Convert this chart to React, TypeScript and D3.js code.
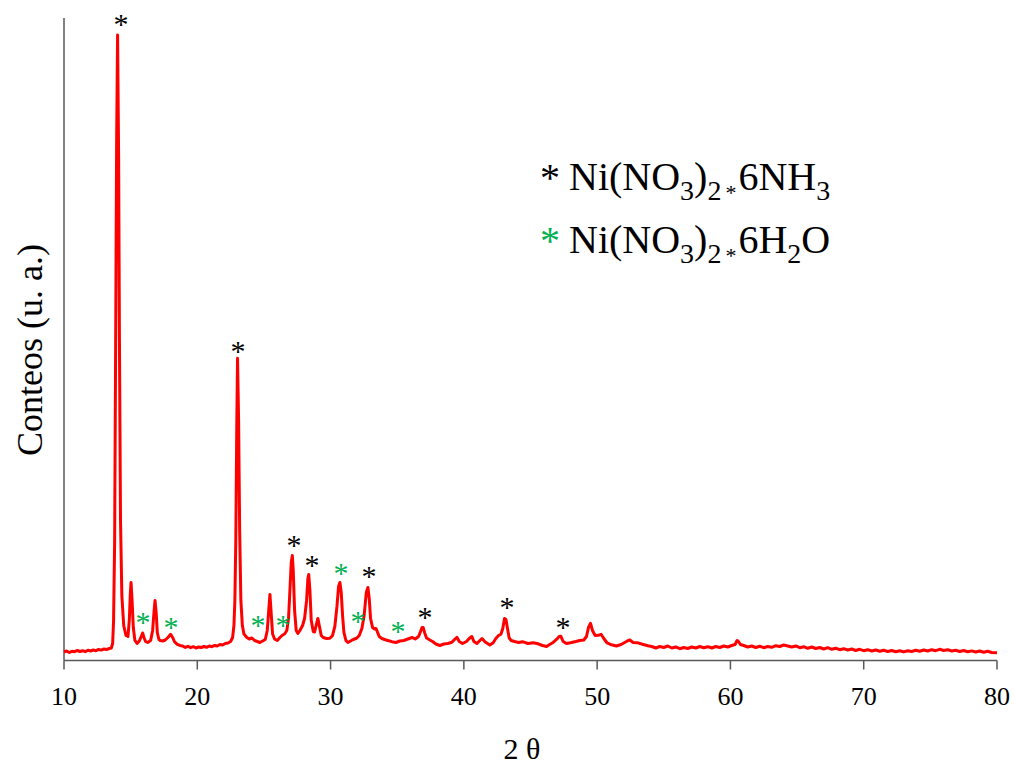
import React from "react";
import * as d3 from "d3";

// XRD pattern: [2θ (deg), counts (a.u.)]
const pattern: [number, number][] = [
  [10.0, 85], [10.2, 95], [10.4, 80], [10.6, 92], [10.8, 88], [11.0, 100], [11.2, 90], [11.4, 98],
  [11.6, 88], [11.8, 102], [12.0, 95], [12.2, 105], [12.4, 98], [12.6, 110], [12.8, 104], [13.0, 115],
  [13.2, 110], [13.4, 120], [13.55, 125], [13.65, 170], [13.72, 400], [13.8, 1200], [13.88, 3300],
  [13.95, 5200], [14.02, 6250], [14.1, 5000], [14.16, 3200], [14.24, 1400], [14.34, 650], [14.48, 350],
  [14.65, 250], [14.8, 240], [14.9, 400], [14.97, 650], [15.03, 780], [15.1, 620], [15.2, 330],
  [15.32, 200], [15.48, 170], [15.65, 195], [15.8, 240], [15.9, 275], [16.0, 230], [16.12, 190],
  [16.28, 180], [16.5, 200], [16.65, 300], [16.75, 480], [16.83, 600], [16.92, 470], [17.0, 280],
  [17.12, 210], [17.22, 200], [17.4, 195], [17.6, 205], [17.8, 230], [18.0, 262], [18.15, 230],
  [18.3, 185], [18.5, 162], [18.7, 150], [18.9, 145], [19.1, 130], [19.3, 142], [19.5, 128],
  [19.7, 138], [19.9, 125], [20.1, 135], [20.3, 130], [20.5, 140], [20.7, 132], [20.9, 145],
  [21.1, 138], [21.3, 150], [21.5, 145], [21.7, 160], [21.9, 155], [22.1, 170], [22.3, 175],
  [22.5, 190], [22.65, 230], [22.75, 350], [22.82, 600], [22.89, 1200], [22.96, 2300], [23.02, 3020],
  [23.1, 2400], [23.18, 1300], [23.27, 600], [23.38, 350], [23.5, 265], [23.72, 230], [23.9, 215],
  [24.1, 225], [24.3, 200], [24.5, 190], [24.7, 180], [24.9, 195], [25.1, 210], [25.25, 300],
  [25.35, 480], [25.45, 660], [25.55, 460], [25.65, 265], [25.8, 215], [26.0, 200], [26.2, 230],
  [26.4, 255], [26.55, 265], [26.72, 300], [26.85, 430], [26.95, 700], [27.05, 980], [27.13, 1050],
  [27.2, 900], [27.3, 500], [27.42, 300], [27.55, 270], [27.7, 300], [27.9, 350], [28.05, 420],
  [28.2, 600], [28.3, 820], [28.36, 860], [28.45, 700], [28.55, 400], [28.7, 290], [28.8, 285],
  [28.92, 350], [29.05, 420], [29.15, 350], [29.3, 250], [29.45, 230], [29.7, 220], [29.95, 222],
  [30.15, 250], [30.32, 340], [30.48, 540], [30.6, 740], [30.7, 780], [30.8, 680], [30.9, 450],
  [31.0, 280], [31.15, 200], [31.3, 180], [31.5, 195], [31.7, 210], [31.95, 222], [32.15, 250],
  [32.35, 320], [32.52, 450], [32.68, 680], [32.8, 730], [32.9, 620], [33.0, 420], [33.15, 330],
  [33.3, 315], [33.4, 320], [33.5, 290], [33.65, 240], [33.85, 220], [34.05, 210], [34.3, 200],
  [34.6, 188], [34.9, 180], [35.2, 195], [35.5, 200], [35.8, 215], [36.1, 230], [36.35, 215],
  [36.6, 240], [36.75, 290], [36.86, 330], [36.95, 330], [37.05, 280], [37.2, 225], [37.45, 205],
  [37.65, 190], [37.9, 165], [38.2, 150], [38.5, 165], [38.8, 170], [39.1, 182], [39.3, 210],
  [39.48, 232], [39.65, 190], [39.9, 170], [40.2, 190], [40.4, 220], [40.6, 240], [40.75, 190],
  [40.98, 170], [41.2, 200], [41.36, 220], [41.6, 185], [41.95, 155], [42.2, 178], [42.4, 220],
  [42.6, 250], [42.78, 262], [42.92, 320], [43.05, 420], [43.16, 410], [43.26, 330], [43.4, 225],
  [43.55, 200], [43.8, 190], [44.1, 180], [44.4, 188], [44.8, 170], [45.2, 178], [45.5, 170],
  [45.9, 150], [46.2, 140], [46.5, 165], [46.7, 180], [46.95, 210], [47.15, 240], [47.28, 242],
  [47.45, 190], [47.7, 170], [48.0, 178], [48.4, 190], [48.7, 200], [49.0, 205], [49.2, 240],
  [49.35, 330], [49.5, 372], [49.65, 300], [49.85, 250], [50.1, 252], [50.3, 262], [50.5, 220],
  [50.75, 175], [51.0, 160], [51.45, 145], [51.8, 160], [52.2, 190], [52.45, 205], [52.7, 180],
  [53.0, 178], [53.4, 162], [53.8, 148], [54.1, 140], [54.4, 125], [54.7, 140], [55.0, 130],
  [55.3, 145], [55.6, 125], [55.9, 135], [56.2, 118], [56.5, 130], [56.8, 120], [57.1, 135],
  [57.4, 125], [57.7, 140], [58.0, 128], [58.3, 138], [58.6, 125], [58.9, 140], [59.2, 130],
  [59.5, 145], [59.8, 135], [60.1, 150], [60.35, 160], [60.5, 200], [60.6, 190], [60.75, 160],
  [61.0, 150], [61.3, 135], [61.6, 145], [61.9, 130], [62.2, 142], [62.5, 128], [62.8, 140],
  [63.1, 132], [63.4, 148], [63.7, 140], [64.0, 155], [64.3, 145], [64.6, 135], [64.9, 145],
  [65.2, 128], [65.5, 138], [65.8, 122], [66.1, 135], [66.4, 120], [66.7, 130], [67.0, 115],
  [67.3, 128], [67.6, 112], [67.9, 122], [68.2, 108], [68.5, 118], [68.8, 105], [69.1, 115],
  [69.4, 100], [69.7, 112], [70.0, 98], [70.3, 108], [70.6, 95], [70.9, 105], [71.2, 92],
  [71.5, 102], [71.8, 90], [72.1, 100], [72.4, 88], [72.7, 98], [73.0, 86], [73.3, 98],
  [73.6, 90], [73.9, 102], [74.2, 92], [74.5, 105], [74.8, 95], [75.1, 108], [75.4, 98],
  [75.7, 112], [76.0, 100], [76.3, 108], [76.6, 95], [76.9, 102], [77.2, 90], [77.5, 100],
  [77.8, 88], [78.1, 96], [78.4, 85], [78.7, 95], [79.0, 82], [79.3, 92], [79.6, 80], [80.0, 78],
];

// Phase markers: [2θ, counts] at the asterisk centre
const nh3Markers: [number, number][] = [
  [14.28, 6400], [23.05, 3130], [27.25, 1190], [28.6, 990], [32.88, 880], [37.08, 470], [43.23, 570], [47.43, 370],
];
const h2oMarkers: [number, number][] = [
  [15.93, 420], [18.03, 370], [24.55, 390], [26.43, 390], [30.78, 910], [32.06, 430], [35.06, 330],
];

const xTicks = [10, 20, 30, 40, 50, 60, 70, 80];
const xDomain: [number, number] = [10, 80];
const yDomain: [number, number] = [0, 6420];

const FONT = "'Liberation Serif', 'Times New Roman', serif";
const GREEN = "#00B050";
const AXIS = "#595959";

export default function App() {
  const left = 64, right = 997, top = 18, bottom = 660.5;
  const x = d3.scaleLinear().domain(xDomain).range([left, right]);
  const y = d3.scaleLinear().domain(yDomain).range([bottom, top]);
  const line = d3
    .line<[number, number]>()
    .x((d) => x(d[0]))
    .y((d) => y(d[1]))
    .curve(d3.curveLinear);

  const star = (d: [number, number], color: string, i: number) => (
    <text
      key={color + i}
      x={x(d[0])}
      y={y(d[1]) + 14}
      textAnchor="middle"
      fontSize={30}
      fill={color}
      fontFamily={FONT}
    >
      *
    </text>
  );

  const legendLine = (yb: number, color: string, tail: React.ReactNode) => (
    <g>
      <text x={550} y={yb + 1} textAnchor="middle" fontSize={40} fill={color} fontFamily={FONT}>
        *
      </text>
      <text x={569} y={yb} fontSize={40} fill="#000" fontFamily={FONT}>
        Ni(NO
        <tspan fontSize={28} dy={10}>3</tspan>
        <tspan fontSize={40} dy={-10}>)</tspan>
        <tspan fontSize={28} dy={10}>2</tspan>
        <tspan fontSize={22} dx={4}>*</tspan>
        {tail}
      </text>
    </g>
  );

  return (
    <div style={{ position: "absolute", left: 0, top: 0 }}>
      <svg width={1015} height={767} style={{ display: "block", background: "#fff" }}>
        {/* axes */}
        <line x1={left} x2={left} y1={top} y2={bottom} stroke={AXIS} strokeWidth={1.5} />
        <line x1={left} x2={right} y1={bottom} y2={bottom} stroke={AXIS} strokeWidth={1.5} />
        {xTicks.map((t) => (
          <g key={t}>
            <line x1={x(t)} x2={x(t)} y1={bottom} y2={bottom + 9} stroke={AXIS} strokeWidth={1.5} />
            <text x={x(t)} y={705} textAnchor="middle" fontSize={26} fontFamily={FONT} fill="#000">
              {t}
            </text>
          </g>
        ))}
        <text x={522} y={759} textAnchor="middle" fontSize={30} fontFamily={FONT} fill="#000">
          2 θ
        </text>
        <text
          transform={`translate(42,350) rotate(-90)`}
          textAnchor="middle"
          fontSize={36}
          fontFamily={FONT}
          fill="#000"
        >
          Conteos (u. a.)
        </text>

        {/* pattern */}
        <path d={line(pattern) || ""} fill="none" stroke="#FF0000" strokeWidth={3} strokeLinejoin="round" />

        {/* markers */}
        {nh3Markers.map((d, i) => star(d, "#000", i))}
        {h2oMarkers.map((d, i) => star(d, GREEN, i))}

        {/* legend */}
        {legendLine(
          190,
          "#000",
          <>
            <tspan fontSize={40} dy={-10} dx={2}>6NH</tspan>
            <tspan fontSize={28} dy={10}>3</tspan>
          </>
        )}
        {legendLine(
          253,
          GREEN,
          <>
            <tspan fontSize={40} dy={-10} dx={2}>6H</tspan>
            <tspan fontSize={28} dy={10}>2</tspan>
            <tspan fontSize={40} dy={-10}>O</tspan>
          </>
        )}
      </svg>
    </div>
  );
}
